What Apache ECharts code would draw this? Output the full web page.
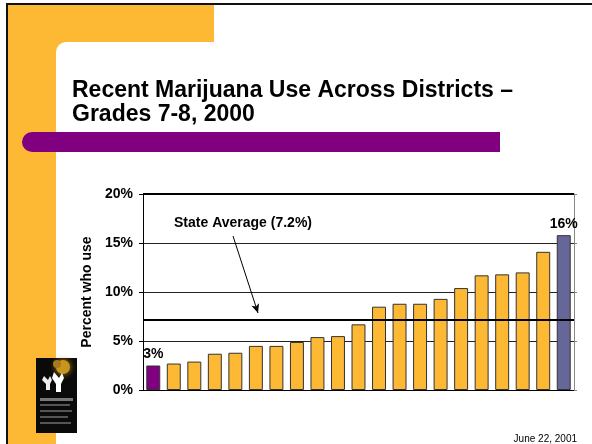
<!DOCTYPE html>
<html><head><meta charset="utf-8">
<script src="https://cdn.jsdelivr.net/npm/echarts@6/dist/echarts.min.js"></script>
<style>html,body{margin:0;padding:0;background:#fff}#c{width:592px;height:444px}</style>
</head><body><div id="c"></div>
<script>
// ---- data ----
const categories = ['District 1','District 2','District 3','District 4','District 5','District 6','District 7',
  'District 8','District 9','District 10','District 11','District 12','District 13','District 14',
  'District 15','District 16','District 17','District 18','District 19','District 20','District 21'];
const values = [2.5, 2.7, 2.9, 3.7, 3.8, 4.5, 4.5, 4.9, 5.4, 5.5, 6.7, 8.5, 8.8, 8.8, 9.3, 10.4, 11.7, 11.8, 12.0, 14.1, 15.8];
const stateAverage = 7.2;
const labeledBars = [0, 20];
const yMin = 0, yMax = 20, yInterval = 5;
const titleText = 'Recent Marijuana Use Across Districts –\nGrades 7-8, 2000';
const yAxisName = 'Percent who use';
const avgLabel = 'State Average (7.2%)';
const dateText = 'June 22, 2001';

// ---- style ----
const F = 'Arial, "Liberation Sans", Helvetica, sans-serif';
const ORANGE = '#FDB933';
const PURPLE = '#800080';
const SLATE = '#666699';
const barColors = values.map((v, i) => i === 0 ? PURPLE : (i === values.length - 1 ? SLATE : ORANGE));

const chart = echarts.init(document.getElementById('c'), null, {renderer: 'canvas'});
const barData = values.map((v, i) => ({
  value: v,
  itemStyle: {color: barColors[i]},
  label: {show: labeledBars.includes(i)}
}));

const option = {
  animation: false,
  backgroundColor: '#fff',
  title: {
    text: titleText, left: 72, top: 79, padding: 0,
    textStyle: {fontFamily: F, fontSize: 23, fontWeight: 'bold', color: '#000', lineHeight: 24}
  },
  grid: {left: 143, right: 18, top: 194, bottom: 54},
  xAxis: {
    type: 'category', data: categories,
    axisLine: {lineStyle: {color: '#000', width: 1}},
    axisTick: {show: false}, axisLabel: {show: false}
  },
  yAxis: [{
    type: 'value', min: yMin, max: yMax, interval: yInterval,
    name: yAxisName, nameLocation: 'middle', nameRotate: 90, nameGap: 48,
    nameTextStyle: {fontFamily: F, fontSize: 14, fontWeight: 'bold', color: '#000'},
    axisLine: {show: true, lineStyle: {color: '#000', width: 1}},
    axisTick: {show: true, length: 4, lineStyle: {color: '#000'}},
    axisLabel: {formatter: '{value}%', margin: 10, fontFamily: F, fontSize: 14, fontWeight: 'bold', color: '#000'},
    splitLine: {lineStyle: {color: '#222', width: 1}}
  }, {
    type: 'value', position: 'right', min: yMin, max: yMax, interval: yInterval,
    axisLine: {show: true, lineStyle: {color: '#888', width: 1}},
    axisTick: {show: true, length: 3, lineStyle: {color: '#888'}},
    axisLabel: {show: false}, splitLine: {show: false}
  }],
  series: [{
    type: 'bar', data: barData, barCategoryGap: '32%',
    itemStyle: {borderColor: '#333', borderWidth: 1},
    label: {
      position: 'top', distance: 4,
      formatter: p => Math.round(p.value) + '%',
      fontFamily: F, fontSize: 14, fontWeight: 'bold', color: '#000'
    },
    markLine: {
      silent: true, symbol: 'none', label: {show: false},
      data: [
        {yAxis: yMax, lineStyle: {color: '#000', width: 2, type: 'solid'}},
        {yAxis: stateAverage, lineStyle: {color: '#000', width: 2, type: 'solid'}},
        [
          {x: 233, y: 236, symbol: 'none', lineStyle: {color: '#000', width: 1, type: 'solid'}},
          {x: 258, y: 313, symbol: 'arrow', symbolSize: [6, 9]}
        ]
      ]
    }
  }],
  graphic: [
    // slide decoration
    {type: 'rect', z: -10, shape: {x: 8, y: 5, width: 206, height: 37}, style: {fill: ORANGE}},
    {type: 'rect', z: -10, shape: {x: 8, y: 5, width: 48, height: 439}, style: {fill: ORANGE}},
    {type: 'rect', z: -10, shape: {x: 56, y: 42, width: 10, height: 10}, style: {fill: ORANGE}},
    {type: 'rect', z: -9, shape: {x: 56, y: 42, width: 20, height: 20, r: [10, 0, 0, 0]}, style: {fill: '#fff'}},
    {type: 'rect', z: -8, shape: {x: 22, y: 132, width: 478, height: 20, r: [10, 0, 0, 10]}, style: {fill: PURPLE}},
    {type: 'line', z: -7, shape: {x1: 6, y1: 4, x2: 592, y2: 4}, style: {stroke: '#111', lineWidth: 2}},
    {type: 'line', z: -7, shape: {x1: 7, y1: 4, x2: 7, y2: 444}, style: {stroke: '#111', lineWidth: 2}},
    // logo
    {type: 'group', x: 36, y: 358, z: 50, children: [
      {type: 'rect', shape: {x: 0, y: 0, width: 41, height: 75}, style: {fill: '#0a0a0a'}},
      {type: 'circle', shape: {cx: 27, cy: 9, r: 7}, style: {fill: '#c8961e', shadowBlur: 6, shadowColor: '#c8961e'}},
      {type: 'circle', shape: {cx: 21, cy: 6, r: 4}, style: {fill: '#a87a18'}},
      {type: 'polygon', shape: {points: [[8,18],[12,22],[14,18],[16,22],[14,26],[14,32],[10,32],[10,26],[6,22]]}, style: {fill: '#eee'}},
      {type: 'polygon', shape: {points: [[18,14],[23,20],[26,15],[28,20],[25,26],[25,34],[20,34],[20,26],[16,20]]}, style: {fill: '#fff'}},
      {type: 'rect', shape: {x: 4, y: 40, width: 33, height: 3}, style: {fill: '#777'}},
      {type: 'rect', shape: {x: 4, y: 46, width: 30, height: 2}, style: {fill: '#555'}},
      {type: 'rect', shape: {x: 4, y: 52, width: 32, height: 2}, style: {fill: '#555'}},
      {type: 'rect', shape: {x: 4, y: 58, width: 28, height: 2}, style: {fill: '#555'}},
      {type: 'rect', shape: {x: 4, y: 64, width: 31, height: 2}, style: {fill: '#555'}}
    ]},
    // annotations
    {type: 'text', z: 50, x: 243, y: 223, style: {text: avgLabel, fontFamily: F, fontSize: 14, fontWeight: 'bold', fill: '#000', align: 'center', verticalAlign: 'middle'}},
    {type: 'text', z: 50, x: 577, y: 439, style: {text: dateText, fontFamily: F, fontSize: 10, fill: '#000', align: 'right', verticalAlign: 'middle'}}
  ]
};
chart.setOption(option);
</script>
</body></html>
